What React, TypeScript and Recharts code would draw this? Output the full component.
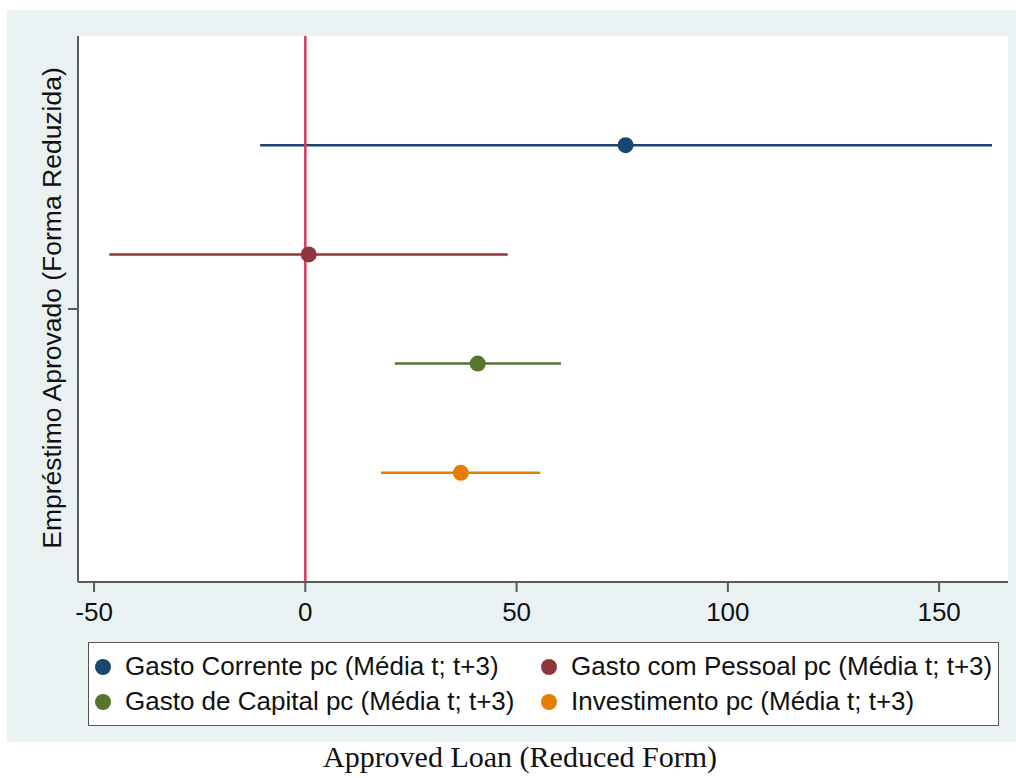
import React from 'react';
import {
  ScatterChart,
  Scatter,
  XAxis,
  YAxis,
  ErrorBar,
  ReferenceLine,
  CartesianGrid,
} from 'recharts';

// Coefficient estimates with 95% CIs, one row per outcome
const seriesNames = [
  'Gasto Corrente pc (Média t; t+3)',
  'Gasto com Pessoal pc (Média t; t+3)',
  'Gasto de Capital pc (Média t; t+3)',
  'Investimento pc (Média t; t+3)',
];
const seriesColors = ['#1a476f', '#90353b', '#55752f', '#e37e00'];
const estimates = [75.8, 0.8, 40.8, 36.8];
const ciLow = [-10.7, -46.4, 21.2, 17.9];
const ciHigh = [162.5, 47.9, 60.5, 55.6];
const rowPositions = [4, 3, 2, 1];

const xTicks = [-50, 0, 50, 100, 150];
const yTicks = [2.5];

const AXIS_COLOR = '#5a5a5a';
const SANS = '"Liberation Sans", Arial, sans-serif';

const rows = seriesNames.map((name, i) => ({
  name,
  color: seriesColors[i],
  data: [
    {
      x: estimates[i],
      y: rowPositions[i],
      err: [estimates[i] - ciLow[i], ciHigh[i] - estimates[i]],
    },
  ],
}));

const Dot = (props: any) => {
  const { cx, cy, fill } = props;
  return <circle cx={cx} cy={cy} r={8} fill={fill} />;
};

function LegendBox() {
  return (
    <div
      style={{
        position: 'absolute',
        left: 88,
        top: 642,
        width: 909,
        height: 82,
        background: '#ffffff',
        border: '1.5px solid #555',
        display: 'grid',
        gridTemplateColumns: '446px 1fr',
        gridTemplateRows: '35px 35px',
        alignContent: 'center',
        fontFamily: SANS,
        fontSize: 26,
        color: '#111',
      }}
    >
      {rows.map((r) => (
        <div key={r.name} style={{ display: 'flex', alignItems: 'center', whiteSpace: 'nowrap' }}>
          <span
            style={{
              display: 'inline-block',
              width: 16,
              height: 16,
              borderRadius: '50%',
              background: r.color,
              marginLeft: 6,
              marginRight: 14,
            }}
          />
          {r.name}
        </div>
      ))}
    </div>
  );
}

export default function App() {
  return (
    <div style={{ position: 'absolute', left: 0, top: 0, width: 1016, height: 778, background: '#fff' }}>
      <div
        style={{ position: 'absolute', left: 7, top: 10, width: 1009, height: 732, background: '#eaf1f3' }}
      />
      <div style={{ position: 'absolute', left: 0, top: 0 }}>
        <ScatterChart
          width={1016}
          height={640}
          margin={{ top: 36, right: 8, bottom: 0, left: 8 }}
        >
          <CartesianGrid fill="#ffffff" stroke="none" horizontal={false} vertical={false} />
          <XAxis
            type="number"
            dataKey="x"
            domain={[-53.8, 166.3]}
            ticks={xTicks}
            allowDataOverflow
            height={58}
            tickSize={10}
            tickMargin={11}
            axisLine={{ stroke: AXIS_COLOR, strokeWidth: 2 }}
            tickLine={{ stroke: AXIS_COLOR, strokeWidth: 2 }}
            tick={{ fill: '#111', fontSize: 26, fontFamily: SANS }}
          />
          <YAxis
            type="number"
            dataKey="y"
            domain={[0, 5]}
            ticks={yTicks}
            width={70}
            tickSize={10}
            tickFormatter={() => ''}
            axisLine={{ stroke: AXIS_COLOR, strokeWidth: 2 }}
            tickLine={{ stroke: AXIS_COLOR, strokeWidth: 2 }}
            label={{
              content: () => (
                <text
                  x={52}
                  y={308}
                  transform="rotate(-90 52 308)"
                  textAnchor="middle"
                  dominantBaseline="central"
                  fontFamily={SANS}
                  fontSize={26.5}
                  fill="#111"
                >
                  Empréstimo Aprovado (Forma Reduzida)
                </text>
              ),
            }}
          />
          {rows.map((r) => (
            <Scatter
              key={r.name}
              name={r.name}
              data={r.data}
              fill={r.color}
              shape={<Dot />}
              isAnimationActive={false}
            >
              <ErrorBar
                dataKey="err"
                direction="x"
                width={0}
                stroke={r.color}
                strokeWidth={2.5}
                isAnimationActive={false}
              />
            </Scatter>
          ))}
          <ReferenceLine x={0} stroke="#d9375c" strokeWidth={2.5} />
        </ScatterChart>
      </div>
      <LegendBox />
      <div
        style={{
          position: 'absolute',
          left: 0,
          width: 1040,
          top: 740,
          textAlign: 'center',
          fontFamily: '"Liberation Serif", "Times New Roman", serif',
          fontSize: 30,
          color: '#111',
        }}
      >
        Approved Loan (Reduced Form)
      </div>
    </div>
  );
}
